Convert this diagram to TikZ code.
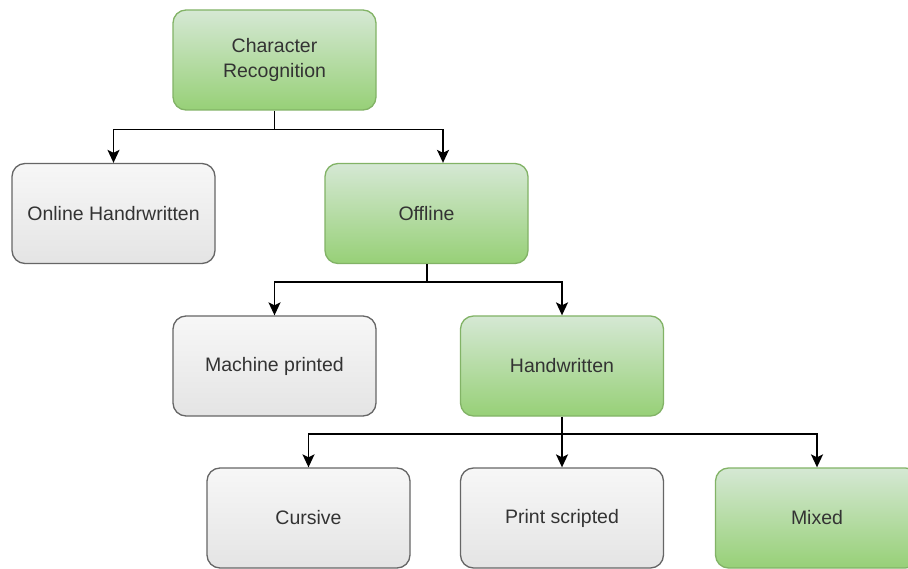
\documentclass[tikz,border=0pt]{standalone}
\usepackage{fontspec}
\setmainfont{Liberation Sans}
\usetikzlibrary{arrows.meta}
\definecolor{gtop}{HTML}{D5E8D4}
\definecolor{gbot}{HTML}{97D077}
\definecolor{gstroke}{HTML}{82B366}
\definecolor{ytop}{HTML}{F7F7F7}
\definecolor{ybot}{HTML}{E4E4E4}
\definecolor{ystroke}{HTML}{666666}
\definecolor{txt}{HTML}{333333}
\tikzset{
  box/.style={rectangle, rounded corners=13pt, minimum width=203pt, minimum height=100pt,
    line width=1.3pt, font=\fontsize{19.5}{25}\selectfont, text=txt, align=center, inner sep=0pt},
  greenbox/.style={box, draw=gstroke, top color=gtop, bottom color=gbot},
  greybox/.style={box, draw=ystroke, top color=ytop, bottom color=ybot},
  conn/.style={line width=1.8pt, draw=black, -{Stealth[length=13pt,width=12pt,inset=3pt]}},
  plain/.style={line width=1.8pt, draw=black}
}
\begin{document}
\begin{tikzpicture}[x=1pt,y=-1pt]
\useasboundingbox (0,0) rectangle (908,569);
\clip (0,0) rectangle (908,569);
\fill[white] (0,0) rectangle (908,569);

\node[greenbox] (cr) at (274.5,60) {Character\\Recognition};
\node[greybox] (online) at (113.5,213.5) {Online Handrwritten};
\node[greenbox] (offline) at (426.5,213.5) {Offline};
\node[greybox] (machine) at (274.5,366) {Machine printed};
\node[greenbox] (hand) at (562,366) {Handwritten};
\node[greybox] (cursive) at (308.5,518) {Cursive};
\node[greybox] (print) at (562,518) {Print scripted};
\node[greenbox] (mixed) at (817,518) {Mixed};

\coordinate (j1) at (274.5,129.5);
\coordinate (j2) at (427,282);
\coordinate (j3) at (562,434);

\draw[plain] (cr.south) -- (j1);
\draw[conn] (j1) -| (online.north);
\draw[conn] (j1) -| ([xshift=16.5pt]offline.north);

\draw[plain] ([xshift=0.5pt]offline.south) -- (j2);
\draw[conn] (j2) -| (machine.north);
\draw[conn] (j2) -| (hand.north);

\draw[plain] (hand.south) -- (j3);
\draw[conn] (j3) -| (cursive.north);
\draw[conn] (j3) -- (print.north);
\draw[conn] (j3) -| (mixed.north);
\end{tikzpicture}
\end{document}
